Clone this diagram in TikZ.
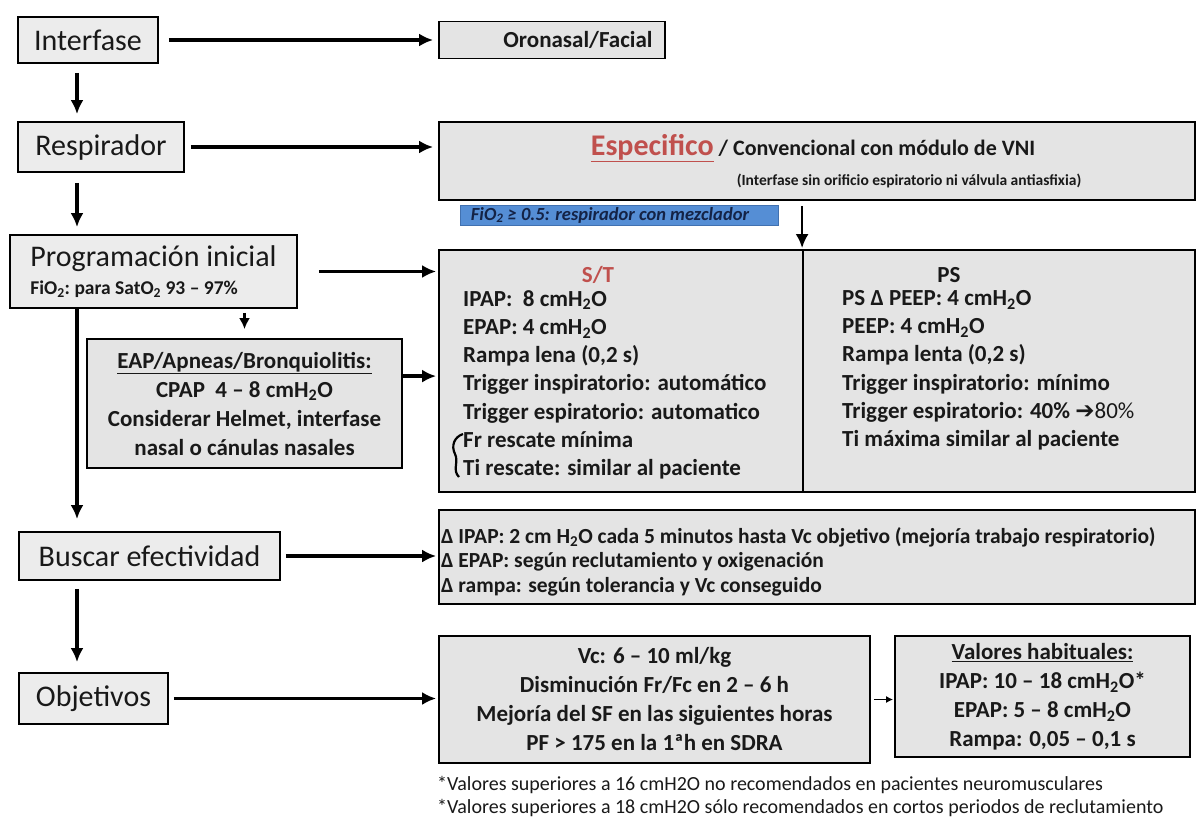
\documentclass[tikz,border=0pt]{standalone}
\usepackage{fontspec}
\setmainfont{Carlito}
\newfontfamily\symfont{DejaVu Sans}
\usetikzlibrary{arrows.meta, positioning}

\definecolor{boxfill}{RGB}{228,228,228}
\definecolor{leftfill}{RGB}{236,236,236}
\definecolor{redtxt}{RGB}{192,80,77}
\definecolor{bluebox}{RGB}{85,142,213}
\definecolor{bluedark}{RGB}{65,113,176}
\definecolor{navytxt}{RGB}{20,35,70}
\definecolor{inktxt}{RGB}{25,25,25}

\newcommand{\water}{H\textsubscript{2}O}

\begin{document}
\begin{tikzpicture}[
        x=1pt, y=-1pt,
        every node/.style={text=inktxt, inner sep=0pt},
        stepbox/.style={draw=black, line width=1.8pt, fill=leftfill, font=\fontsize{30}{36}\selectfont},
        infobox/.style={draw=black, line width=1.8pt, fill=boxfill, align=center,
            font=\fontsize{23}{29}\selectfont\bfseries},
        cellbody/.style={align=left, anchor=north west, font=\fontsize{23}{28.3}\selectfont\bfseries},
        mainarrow/.style={-{Latex[length=14pt,width=13pt]}, line width=3.4pt},
        smallarrow/.style={-{Latex[length=11pt,width=11pt]}, line width=2.2pt},
        tinyarrow/.style={-{Latex[length=7pt,width=7pt]}, line width=1.6pt}
    ]
    \useasboundingbox (0,0) rectangle (1196,822);

    % Left column
    \node[stepbox, minimum width=140pt, minimum height=46pt] (interfase) at (88,40) {Interfase};
    \node[stepbox, minimum width=166pt, minimum height=50pt] (respirador) at (101,147) {Respirador};
    \node[stepbox, minimum width=287pt, minimum height=73pt, align=left] (prog) at (153.5,271.5)
        {Programación inicial\\[-8pt]{\fontsize{19.5}{21}\selectfont\bfseries FiO\textsubscript{2}:\ para SatO\textsubscript{2} 93 -- 97\%}};
    \node[stepbox, minimum width=261pt, minimum height=48pt] (buscar) at (149.5,556) {Buscar efectividad};
    \node[stepbox, minimum width=149pt, minimum height=51pt] (objetivos) at (93.5,698.5) {Objetivos};
    \coordinate (spine) at (77,0);

    % Interfase and respirador
    \node[infobox, minimum width=226pt, minimum height=37pt] (oronasal) at (552,40) {};
    \node[font=\fontsize{23}{26}\selectfont\bfseries] (oronasaltext) at (578,40) {Oronasal/Facial};
    \node[infobox, minimum width=756pt, minimum height=78pt] (esp) at (817,161) {};
    \node[font=\fontsize{22}{26}\selectfont\bfseries] (esptitle) at (813,148)
        {{\fontsize{30}{34}\selectfont\color{redtxt}\underline{Especifico}} / Convencional con módulo de VNI};
    \node[font=\fontsize{15.5}{18}\selectfont\bfseries] (espnote) at (909,181) {(Interfase sin orificio espiratorio ni válvula antiasfixia)};
    \node[draw=bluedark, fill=bluebox, line width=1pt, minimum width=318pt, minimum height=20pt] (mezclador) at (619,215) {};
    \node[font=\fontsize{18.5}{20}\selectfont\bfseries\itshape, text=navytxt] (mezcladortext) at (610,215)
        {FiO\textsubscript{2} ≥ 0.5: respirador con mezclador};

    % Programacion: S/T and PS
    \node[infobox, minimum width=364pt, minimum height=242pt] (st) at (621,371) {};
    \node[infobox, minimum width=392pt, minimum height=242pt] (ps) at (999,371) {};
    \node[text=redtxt, font=\fontsize{23}{28}\selectfont\bfseries] (sttitle) at (598,275) {S/T};
    \node[cellbody] (stbody) at (463,290) {IPAP:\ \ 8 cm\water\\ EPAP: 4 cm\water\\ Rampa lena (0,2 s)\\
        Trigger inspiratorio: automático\\ Trigger espiratorio: automatico\\ Fr rescate mínima\\ Ti rescate: similar al paciente};
    \draw[line width=2.2pt] (463,434) .. controls (454,437) and (451,446) .. (455,454)
        .. controls (459,462) and (452,470) .. (459,477);
    \node[font=\fontsize{23}{28}\selectfont\bfseries] (pstitle) at (949,275) {PS};
    \node[cellbody] (psbody) at (842,290) {PS Δ PEEP: 4 cm\water\\ PEEP: 4 cm\water\\ Rampa lenta (0,2 s)\\
        Trigger inspiratorio: mínimo\\ Trigger espiratorio: 40\% {\symfont\bfseries ➔}{\mdseries 80\%}\\ Ti máxima similar al paciente};

    % EAP
    \node[infobox, minimum width=315pt, minimum height=129pt] (eap) at (244.5,403.5)
        {\underline{EAP/Apneas/Bronquiolitis:}\\ CPAP\ \ 4 -- 8 cm\water\\ Considerar Helmet, interfase\\ nasal o cánulas nasales};

    % Efectividad
    \node[infobox, minimum width=756pt, minimum height=94pt] (delta) at (817,557) {};
    \node[align=left, anchor=north west, font=\fontsize{21.5}{24.5}\selectfont\bfseries] (deltatext) at (441,527)
        {Δ IPAP: 2 cm H\textsubscript{2}O cada 5 minutos hasta Vc objetivo (mejoría trabajo respiratorio)\\
        Δ EPAP: según reclutamiento y oxigenación\\ Δ rampa: según tolerancia y Vc conseguido};

    % Objetivos
    \node[infobox, minimum width=431pt, minimum height=127pt] (vc) at (654.5,699.5)
        {Vc: 6 -- 10 ml/kg\\ Disminución Fr/Fc en 2 -- 6 h\\ Mejoría del SF en las siguientes horas\\ PF > 175 en la 1ªh en SDRA};
    \node[infobox, minimum width=295pt, minimum height=121pt] (valores) at (1042.5,696.5)
        {\underline{Valores habituales:}\\ IPAP: 10 -- 18 cm\water*\\ EPAP: 5 -- 8 cm\water\\ Rampa: 0,05 -- 0,1 s};
    \node[align=left, anchor=north west, font=\fontsize{20}{23.5}\selectfont] (notas) at (437,776)
        {*Valores superiores a 16 cmH2O no recomendados en pacientes neuromusculares\\
        *Valores superiores a 18 cmH2O sólo recomendados en cortos periodos de reclutamiento};

    % Arrows
    \draw[mainarrow, shorten <=9pt, shorten >=7pt] (interfase.south -| spine) -- (respirador.north -| spine);
    \draw[mainarrow, shorten <=10pt, shorten >=7pt] (respirador.south -| spine) -- (prog.north -| spine);
    \draw[mainarrow, shorten >=12pt] (prog.south -| spine) -- (buscar.north -| spine);
    \draw[mainarrow, shorten <=8pt, shorten >=10pt] (buscar.south -| spine) -- (objetivos.north -| spine);

    \draw[mainarrow, shorten <=10pt, shorten >=5pt] (interfase.east) -- (oronasal.west);
    \draw[mainarrow, shorten <=6pt, shorten >=5pt] (respirador.east) -- (respirador.east -| esp.west);
    \draw[mainarrow, shorten <=21pt, shorten >=2pt] (prog.east) -- (prog.east -| st.west);
    \draw[mainarrow, shorten >=2pt] ([yshift=-38pt]eap.north east) -- ([yshift=-38pt]eap.north east -| st.west);
    \draw[mainarrow, line width=2.6pt, shorten <=5pt, shorten >=1pt] (esp.south -| ps.north west) -- (ps.north west);
    \draw[mainarrow, shorten <=5pt, shorten >=2pt] (buscar.east) -- (buscar.east -| delta.west);
    \draw[mainarrow, shorten <=5pt, shorten >=2pt] (objetivos.east) -- (objetivos.east -| vc.west);

    \draw[smallarrow, shorten <=4pt, shorten >=9pt] (eap.north |- prog.south) -- (eap.north);
    \draw[tinyarrow, shorten <=3pt, shorten >=1pt] (vc.east) -- (vc.east -| valores.west);

\end{tikzpicture}
\end{document}
